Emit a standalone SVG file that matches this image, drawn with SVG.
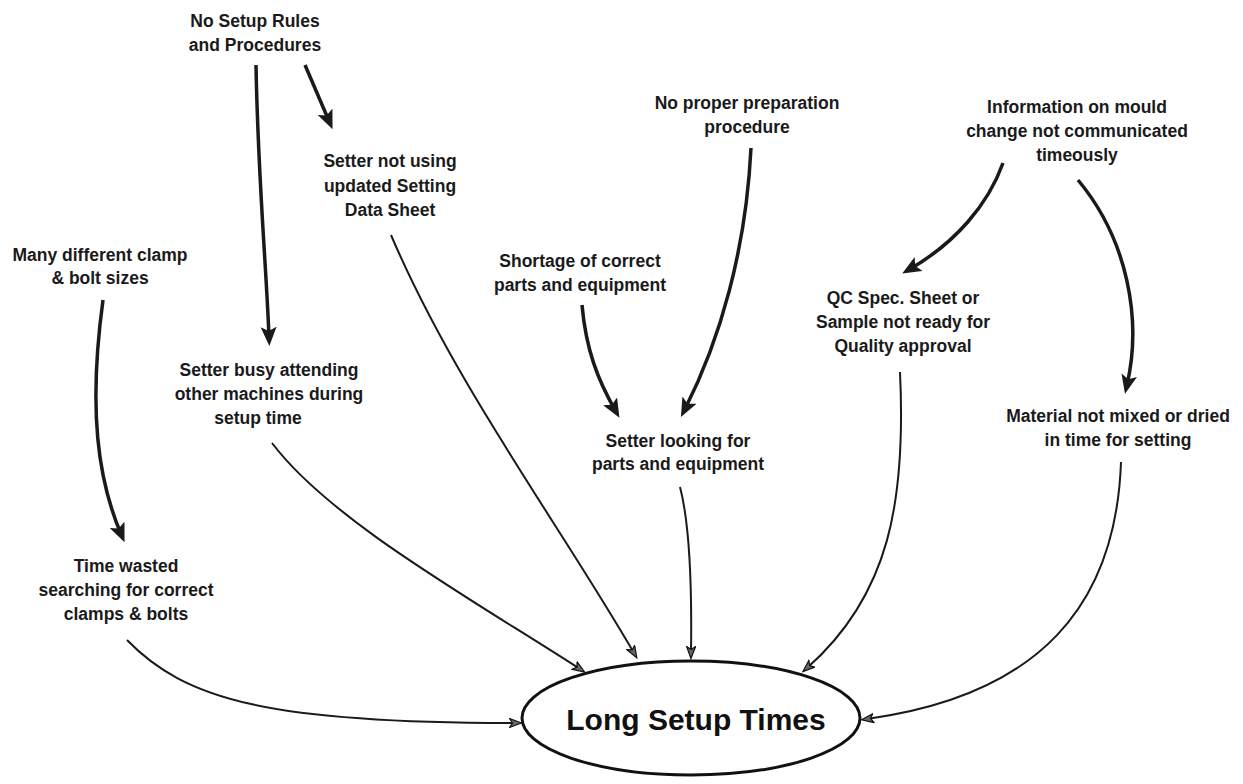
<svg xmlns="http://www.w3.org/2000/svg" width="1243" height="784" viewBox="0 0 1243 784">
  <style>
    .lbl { font-family: "Liberation Sans", Arial, sans-serif; font-weight: bold; font-size: 17.5px; fill: #1a1a1a; text-anchor: middle; }
    .title { font-family: "Liberation Sans", Arial, sans-serif; font-weight: bold; font-size: 30px; fill: #111; text-anchor: middle; }
    .cause { fill: none; stroke: #1a1a1a; stroke-width: 3.5; marker-end: url(#bold-head); }
    .effect { fill: none; stroke: #1a1a1a; stroke-width: 2; marker-end: url(#small-head); }
  </style>
  <defs>
    <marker id="bold-head" markerUnits="userSpaceOnUse" markerWidth="19" markerHeight="17" refX="10" refY="8" orient="auto">
      <path d="M0,0 L19,8 L0,16 L4,8 z" fill="#1a1a1a"/>
    </marker>
    <marker id="small-head" markerUnits="userSpaceOnUse" markerWidth="14" markerHeight="11" refX="7" refY="5" orient="auto">
      <path d="M0.5,0.5 L12.5,5 L0.5,9.5 L3.5,5 z" fill="#666" stroke="#111" stroke-width="1.2"/>
    </marker>
  </defs>
  <rect width="1243" height="784" fill="#ffffff"/>

  <!-- connectors -->
  <g id="connectors">
    <!-- cause to cause -->
    <path class="cause" d="M256,65 C258,180 266,260 269,337"/>
    <path class="cause" d="M305,65 L329,121"/>
    <path class="cause" d="M103,300 C88,410 98,480 121,534"/>
    <path class="cause" d="M582,305 C586,350 598,380 615,410"/>
    <path class="cause" d="M751,148 C746,250 720,340 685,409"/>
    <path class="cause" d="M1003,163 C988,205 955,243 910,269"/>
    <path class="cause" d="M1078,180 C1128,240 1142,320 1127,385"/>
    <!-- causes into the central effect -->
    <path class="effect" d="M127,640 C185,700 270,723 516,723"/>
    <path class="effect" d="M272,443 C330,520 470,598 580,669"/>
    <path class="effect" d="M391,235 C455,385 560,525 634,653"/>
    <path class="effect" d="M680,487 C690,525 692,585 691,653"/>
    <path class="effect" d="M900,372 C906,500 890,595 807,668"/>
    <path class="effect" d="M1121,462 C1116,605 1040,695 867,719"/>
  </g>

  <g id="no-setup-rules">
    <text class="lbl" x="255" y="27">No Setup Rules</text>
    <text class="lbl" x="255" y="51">and Procedures</text>
  </g>
  <g id="setter-not-using-sheet">
    <text class="lbl" x="390" y="167">Setter not using</text>
    <text class="lbl" x="390" y="192">updated Setting</text>
    <text class="lbl" x="390" y="216">Data Sheet</text>
  </g>
  <g id="no-preparation-procedure">
    <text class="lbl" x="747" y="109">No proper preparation</text>
    <text class="lbl" x="747" y="133">procedure</text>
  </g>
  <g id="mould-change-info">
    <text class="lbl" x="1077" y="113">Information on mould</text>
    <text class="lbl" x="1077" y="137">change not communicated</text>
    <text class="lbl" x="1077" y="161">timeously</text>
  </g>
  <g id="clamp-bolt-sizes">
    <text class="lbl" x="100" y="261">Many different clamp</text>
    <text class="lbl" x="100" y="284">&amp; bolt sizes</text>
  </g>
  <g id="parts-shortage">
    <text class="lbl" x="580" y="267">Shortage of correct</text>
    <text class="lbl" x="580" y="291">parts and equipment</text>
  </g>
  <g id="qc-spec-sheet">
    <text class="lbl" x="903" y="304">QC Spec. Sheet or</text>
    <text class="lbl" x="903" y="328">Sample not ready for</text>
    <text class="lbl" x="903" y="352">Quality approval</text>
  </g>
  <g id="material-not-ready">
    <text class="lbl" x="1118" y="422">Material not mixed or dried</text>
    <text class="lbl" x="1118" y="446">in time for setting</text>
  </g>
  <g id="setter-busy">
    <text class="lbl" x="269" y="376">Setter busy attending</text>
    <text class="lbl" x="269" y="400">other machines during</text>
    <text class="lbl" x="258" y="424">setup time</text>
  </g>
  <g id="setter-looking">
    <text class="lbl" x="678" y="447">Setter looking for</text>
    <text class="lbl" x="678" y="470">parts and equipment</text>
  </g>
  <g id="time-wasted">
    <text class="lbl" x="126" y="572">Time wasted</text>
    <text class="lbl" x="126" y="596">searching for correct</text>
    <text class="lbl" x="126" y="620">clamps &amp; bolts</text>
  </g>
  <g id="long-setup-times">
    <ellipse cx="691" cy="718" rx="169" ry="57" fill="none" stroke="#111" stroke-width="3"/>
    <text class="title" x="696" y="730">Long Setup Times</text>
  </g>
</svg>
